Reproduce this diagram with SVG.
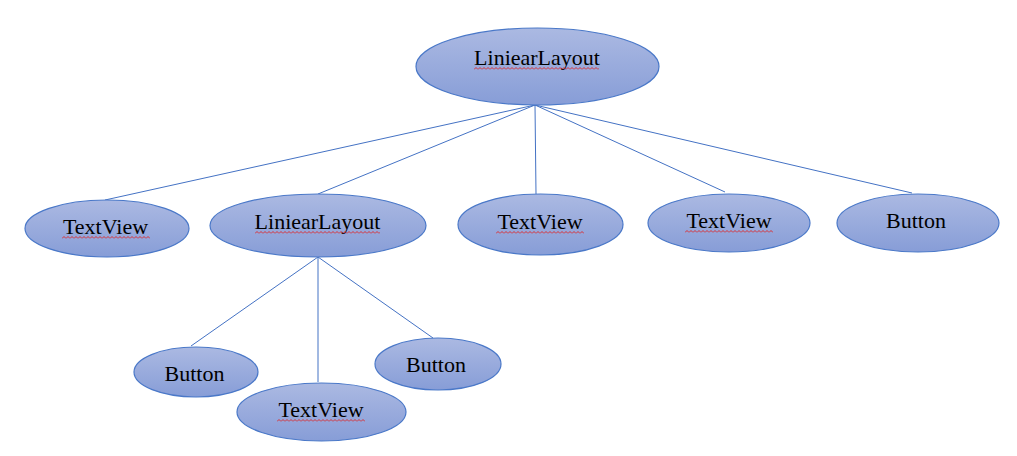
<svg xmlns="http://www.w3.org/2000/svg" width="1017" height="456" viewBox="0 0 1017 456">
<style>
.n{fill:url(#g);stroke:#4a78c8;stroke-width:1.2}
.t{font-family:"Liberation Serif","Times New Roman",serif;font-size:22px;fill:#000;text-anchor:middle}
.e{stroke:#4472c4;stroke-width:1;fill:none}
.sq{fill:url(#wave)}
</style>
<defs>
<linearGradient id="g" x1="0" y1="0" x2="0" y2="1">
<stop offset="0" stop-color="#abb9e2"/>
<stop offset="1" stop-color="#879dd7"/>
</linearGradient>
<pattern id="wave" patternUnits="userSpaceOnUse" width="4" height="3">
<path d="M0,2.5 L2,0.5 L4,2.5" fill="none" stroke="#e02020" stroke-width="0.9"/>
</pattern>
</defs>
<rect width="1017" height="456" fill="#fff"/>
<g id="connectors">
<line class="e" x1="535" y1="105" x2="105" y2="200"/>
<line class="e" x1="535" y1="105" x2="318" y2="194"/>
<line class="e" x1="535" y1="105" x2="536" y2="194"/>
<line class="e" x1="535" y1="105" x2="725" y2="192"/>
<line class="e" x1="535" y1="105" x2="912" y2="193"/>
<line class="e" x1="318" y1="257" x2="191" y2="346"/>
<line class="e" x1="318" y1="257" x2="318" y2="382"/>
<line class="e" x1="318" y1="257" x2="433" y2="338"/>
</g>
<g id="root">
<ellipse class="n" cx="537.5" cy="66.5" rx="121.5" ry="38.5"/>
<text class="t" x="537" y="65">LiniearLayout</text>
<g transform="translate(474,67)"><rect class="sq" width="125" height="3"/></g>
</g>
<g id="textview1">
<ellipse class="n" cx="107" cy="228.5" rx="82" ry="28.5"/>
<text class="t" x="105.5" y="234">TextView</text>
<g transform="translate(62,236)"><rect class="sq" width="88" height="3"/></g>
</g>
<g id="layout2">
<ellipse class="n" cx="318" cy="225.5" rx="108" ry="31.5"/>
<text class="t" x="317.5" y="229">LiniearLayout</text>
<g transform="translate(255,231)"><rect class="sq" width="125" height="3"/></g>
</g>
<g id="textview2">
<ellipse class="n" cx="540.5" cy="224.5" rx="82.5" ry="30.5"/>
<text class="t" x="540" y="229">TextView</text>
<g transform="translate(496,231)"><rect class="sq" width="88" height="3"/></g>
</g>
<g id="textview3">
<ellipse class="n" cx="729" cy="223" rx="81" ry="29"/>
<text class="t" x="729" y="228">TextView</text>
<g transform="translate(685,230)"><rect class="sq" width="88" height="3"/></g>
</g>
<g id="button1">
<ellipse class="n" cx="918" cy="223" rx="81" ry="29"/>
<text class="t" x="916" y="228">Button</text>
</g>
<g id="button2">
<ellipse class="n" cx="196" cy="372" rx="62" ry="25"/>
<text class="t" x="194.5" y="381">Button</text>
</g>
<g id="textview4">
<ellipse class="n" cx="321.5" cy="412" rx="84.5" ry="29"/>
<text class="t" x="321" y="417">TextView</text>
<g transform="translate(277,419)"><rect class="sq" width="88" height="3"/></g>
</g>
<g id="button3">
<ellipse class="n" cx="438" cy="364" rx="63" ry="26"/>
<text class="t" x="436" y="372">Button</text>
</g>
</svg>
